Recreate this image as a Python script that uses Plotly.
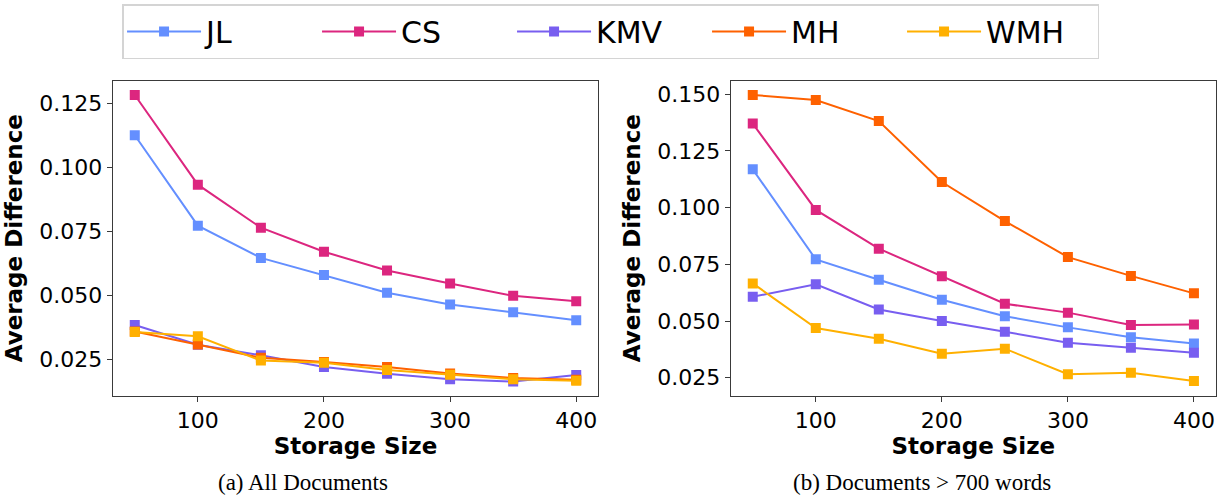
import plotly.graph_objects as go
from plotly.subplots import make_subplots

storage = [50, 100, 150, 200, 250, 300, 350, 400]
methods = ["JL", "CS", "KMV", "MH", "WMH"]
colors = ["#648FFF", "#DC267F", "#785EF0", "#FE6100", "#FFB000"]

# (a) All Documents
all_jl = [0.1125, 0.0772, 0.0646, 0.0579, 0.0510, 0.0464, 0.0434, 0.0403]
all_cs = [0.1282, 0.0932, 0.0764, 0.0670, 0.0597, 0.0546, 0.0498, 0.0477]
all_kmv = [0.0384, 0.0307, 0.0266, 0.0220, 0.0194, 0.0172, 0.0163, 0.0189]
all_mh = [0.0359, 0.0308, 0.0256, 0.0240, 0.0220, 0.0195, 0.0177, 0.0170]
all_wmh = [0.0357, 0.0340, 0.0245, 0.0237, 0.0208, 0.0190, 0.0172, 0.0166]

# (b) Documents > 700 words
long_jl = [0.1169, 0.0772, 0.0682, 0.0594, 0.0521, 0.0472, 0.0428, 0.0401]
long_cs = [0.1371, 0.0990, 0.0819, 0.0697, 0.0576, 0.0537, 0.0482, 0.0485]
long_kmv = [0.0607, 0.0662, 0.0551, 0.0500, 0.0453, 0.0404, 0.0382, 0.0360]
long_mh = [0.1497, 0.1475, 0.1382, 0.1113, 0.0941, 0.0782, 0.0699, 0.0622]
long_wmh = [0.0666, 0.0469, 0.0422, 0.0356, 0.0378, 0.0265, 0.0272, 0.0235]

x_ticks = [100, 200, 300, 400]
left_yticks = [0.025, 0.050, 0.075, 0.100, 0.125]
right_yticks = [0.025, 0.050, 0.075, 0.100, 0.125, 0.150]
x_title = "Storage Size"
y_title = "Average Difference"
captions = ["(a) All Documents", "(b) Documents > 700 words"]

all_series = [all_jl, all_cs, all_kmv, all_mh, all_wmh]
long_series = [long_jl, long_cs, long_kmv, long_mh, long_wmh]

W, H = 1226, 496
fig = make_subplots(rows=1, cols=2)

for i, name in enumerate(methods):
    fig.add_trace(go.Scatter(
        x=storage, y=all_series[i], name=name, mode="lines+markers",
        line=dict(color=colors[i], width=2),
        marker=dict(symbol="square", size=10, color=colors[i]),
        legendgroup=name, showlegend=True), row=1, col=1)
for i, name in enumerate(methods):
    fig.add_trace(go.Scatter(
        x=storage, y=long_series[i], name=name, mode="lines+markers",
        line=dict(color=colors[i], width=2),
        marker=dict(symbol="square", size=10, color=colors[i]),
        legendgroup=name, showlegend=False), row=1, col=2)

axis_common = dict(
    showline=True, mirror=True, linecolor="#3a3a3a", linewidth=1.3,
    ticks="outside", ticklen=5, tickwidth=1.3, tickcolor="#3a3a3a",
    showgrid=False, zeroline=False,
    tickfont=dict(family="DejaVu Sans", size=22, color="black"),
)
title_font = dict(family="DejaVu Sans", size=23, color="black", weight="bold")

fig.update_xaxes(**axis_common, range=[32.5, 417.5], tickvals=x_ticks,
                 title=dict(text=x_title, font=title_font, standoff=5))
fig.update_yaxes(**axis_common, tickformat=".3f",
                 title=dict(text=y_title, font=title_font, standoff=10))

fig.update_layout(
    xaxis=dict(domain=[112.7 / W, 598.3 / W]),
    xaxis2=dict(domain=[730.7 / W, 1216 / W]),
    yaxis=dict(domain=[1 - 395.7 / H, 1 - 80.7 / H], range=[0.0108, 0.1338], tickvals=left_yticks),
    yaxis2=dict(domain=[1 - 395.7 / H, 1 - 80.7 / H], range=[0.01706, 0.1560], tickvals=right_yticks),
)

for txt, xc in zip(captions, [303, 922]):
    fig.add_annotation(text=txt, x=xc / W, y=1 - 482 / H, xref="paper", yref="paper",
                       showarrow=False, xanchor="center", yanchor="middle",
                       font=dict(family="Liberation Serif", size=23, color="black"))

fig.update_layout(
    width=W, height=H, autosize=False,
    margin=dict(l=0, r=0, t=0, b=0),
    paper_bgcolor="white", plot_bgcolor="white",
    legend=dict(orientation="h", x=0.498, xanchor="center", y=1 - 4 / H, yanchor="top",
                font=dict(family="DejaVu Sans", size=30, color="black"),
                bordercolor="#d4d4d4", borderwidth=1.5, bgcolor="white",
                itemwidth=74, entrywidth=106),
)

fig.write_html("out.html", config={"displayModeBar": False},
               post_script="document.body.style.margin='0';")
